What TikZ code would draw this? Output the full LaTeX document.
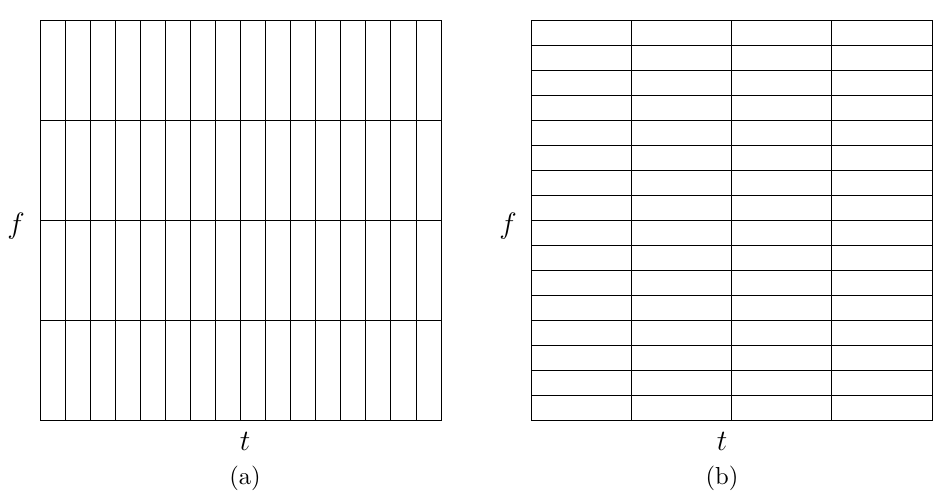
\documentclass[tikz,border=0pt]{standalone}
\usetikzlibrary{positioning}

\begin{document}
\begin{tikzpicture}[x=0.02cm, y=-0.02cm, line width=0.5pt, every node/.style={scale=1.4}]
	\useasboundingbox (0,0) rectangle (949,497);
	% (a): fine in time, coarse in frequency
	\draw (40,20) rectangle (441,420);
	\foreach \k in {1,...,15} \draw ({40+\k*401/16},20) -- ({40+\k*401/16},420);
	\foreach \k in {1,2,3} \draw (40,{20+\k*100}) -- (441,{20+\k*100});
	\node (fa) at (16,226) {\large $f$};
	\node (ta) at (245,441) {\large $t$};
	\node (capa) at (245,478) {(a)};
	% (b): coarse in time, fine in frequency
	\draw (531,20) rectangle (932,420);
	\foreach \k in {1,2,3} \draw ({531+\k*401/4},20) -- ({531+\k*401/4},420);
	\foreach \k in {1,...,15} \draw (531,{20+\k*25}) -- (932,{20+\k*25});
	\node (fb) at (508,226) {\large $f$};
	\node (tb) at (722,441) {\large $t$};
	\node (capb) at (722,478) {(b)};
\end{tikzpicture}
\end{document}
